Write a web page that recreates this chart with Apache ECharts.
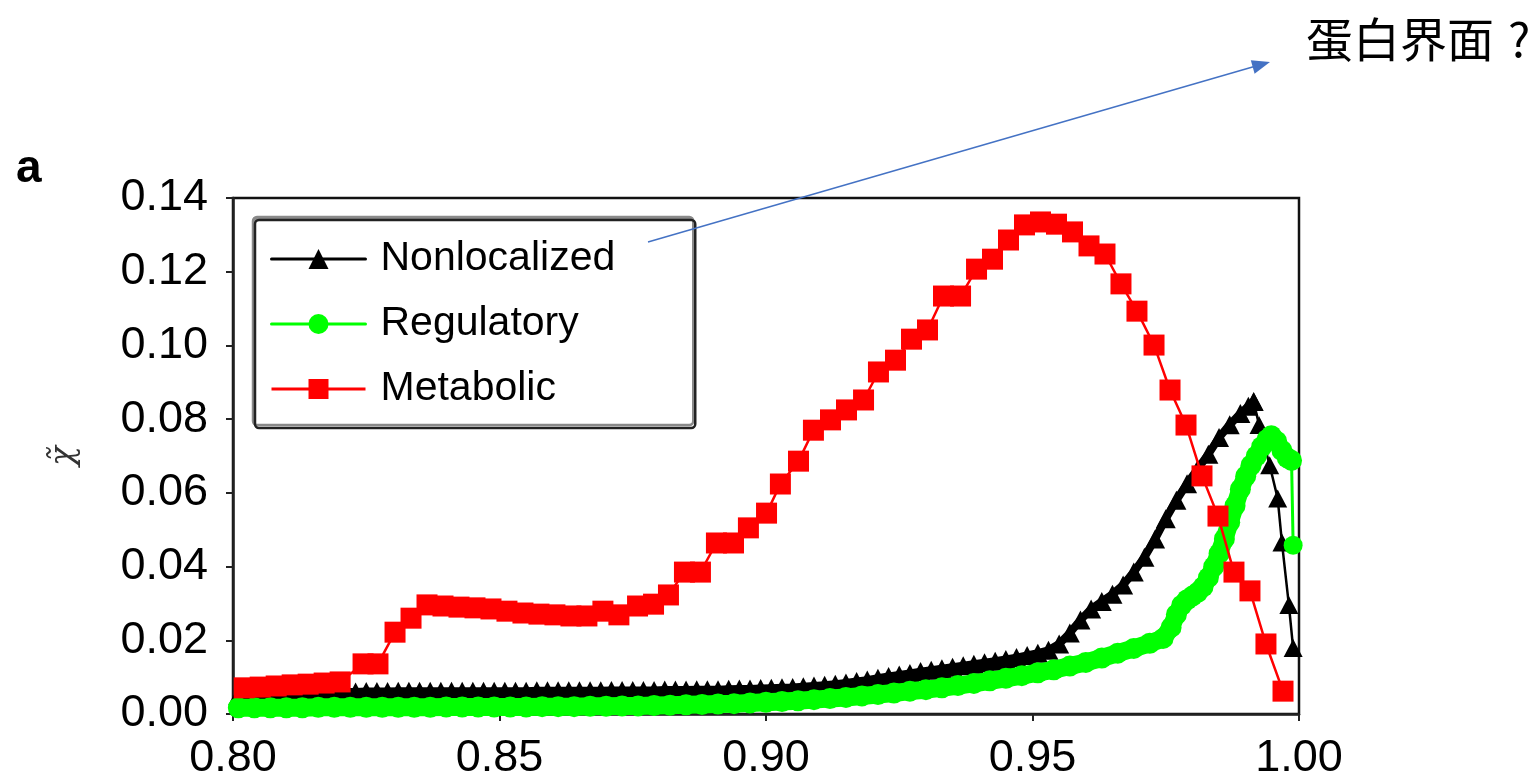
<!DOCTYPE html>
<html>
<head>
    <meta charset="utf-8">
    <title>chi tilde</title>
    <script src="https://cdn.jsdelivr.net/npm/echarts@6/dist/echarts.min.js"></script>
    <style>
        html, body {
            margin: 0;
            height: 100%;
            background: #fff;
        }
        #main {
            width: 1537px;
            height: 779px;
        }
    </style>
</head>
<body>
    <div id="main"></div>
    <script>
        // Nonlocalized (black triangles)
        var nonlocX = [0.801, 0.803, 0.805, 0.807, 0.809, 0.811, 0.813, 0.815, 0.817, 0.819,
            0.821, 0.823, 0.825, 0.827, 0.829, 0.831, 0.833, 0.835, 0.837, 0.839,
            0.841, 0.843, 0.845, 0.847, 0.849, 0.851, 0.853, 0.855, 0.857, 0.859,
            0.861, 0.863, 0.865, 0.867, 0.869, 0.871, 0.873, 0.875, 0.877, 0.879,
            0.881, 0.883, 0.885, 0.887, 0.889, 0.891, 0.893, 0.895, 0.897, 0.899,
            0.901, 0.903, 0.905, 0.907, 0.909, 0.911, 0.913, 0.915, 0.917, 0.919,
            0.921, 0.923, 0.925, 0.927, 0.929, 0.931, 0.933, 0.935, 0.937, 0.939,
            0.941, 0.943, 0.945, 0.947, 0.949, 0.951, 0.953, 0.955, 0.957, 0.959,
            0.961, 0.963, 0.965, 0.967, 0.969, 0.971, 0.973, 0.975, 0.977, 0.979,
            0.981, 0.983, 0.985, 0.987, 0.989, 0.9905, 0.9915, 0.9925, 0.9945, 0.9960,
            0.9968, 0.9981, 0.9989];
        var nonlocY = [0.0050, 0.0051, 0.0053, 0.0054, 0.0055, 0.0056, 0.0057, 0.0058, 0.0058, 0.0059,
            0.0060, 0.0060, 0.0061, 0.0061, 0.0061, 0.0062, 0.0062, 0.0062, 0.0062, 0.0062,
            0.0062, 0.0062, 0.0062, 0.0062, 0.0062, 0.0062, 0.0062, 0.0062, 0.0063, 0.0063,
            0.0063, 0.0063, 0.0063, 0.0063, 0.0063, 0.0064, 0.0064, 0.0064, 0.0064, 0.0064,
            0.0065, 0.0065, 0.0065, 0.0066, 0.0066, 0.0066, 0.0067, 0.0068, 0.0068, 0.0069,
            0.0070, 0.0071, 0.0072, 0.0074, 0.0076, 0.0078, 0.0081, 0.0084, 0.0088, 0.0092,
            0.0097, 0.0102, 0.0106, 0.0110, 0.0115, 0.0119, 0.0123, 0.0127, 0.0131, 0.0135,
            0.0139, 0.0143, 0.0148, 0.0153, 0.0159, 0.0165, 0.0173, 0.0190, 0.0220, 0.0255,
            0.0285, 0.0305, 0.0325, 0.0350, 0.0385, 0.0425, 0.0475, 0.0530, 0.0580, 0.0625,
            0.0665, 0.0705, 0.0750, 0.0785, 0.0815, 0.0835, 0.0848, 0.0784, 0.0675, 0.0585,
            0.0465, 0.0296, 0.0179];
        var nonlocPeak = 96; // markers overlap into a band up to here, sparse after

        // Regulatory (green circles)
        var regX = [0.801, 0.804, 0.807, 0.810, 0.813, 0.816, 0.819, 0.822, 0.825, 0.828,
            0.831, 0.834, 0.837, 0.840, 0.843, 0.846, 0.849, 0.852, 0.855, 0.858,
            0.861, 0.864, 0.867, 0.870, 0.873, 0.876, 0.879, 0.882, 0.885, 0.888,
            0.891, 0.894, 0.897, 0.900, 0.903, 0.906, 0.909, 0.912, 0.915, 0.918,
            0.921, 0.924, 0.927, 0.930, 0.933, 0.936, 0.939, 0.942, 0.945, 0.948,
            0.951, 0.954, 0.957, 0.960, 0.963, 0.966, 0.969, 0.972, 0.9745, 0.976,
            0.977, 0.978, 0.979, 0.980, 0.981, 0.982, 0.983, 0.984, 0.985, 0.986,
            0.987, 0.988, 0.989, 0.990, 0.991, 0.992, 0.993, 0.994, 0.9948, 0.9958,
            0.9968, 0.9978, 0.9986, 0.9989];
        var regY = [0.0017, 0.0017, 0.0017, 0.0017, 0.0017, 0.0018, 0.0018, 0.0018, 0.0018, 0.0018,
            0.0018, 0.0018, 0.0018, 0.0019, 0.0019, 0.0019, 0.0019, 0.0019, 0.0019, 0.0020,
            0.0020, 0.0020, 0.0021, 0.0021, 0.0022, 0.0022, 0.0023, 0.0024, 0.0025, 0.0026,
            0.0027, 0.0028, 0.0030, 0.0032, 0.0034, 0.0036, 0.0039, 0.0042, 0.0045, 0.0049,
            0.0053, 0.0057, 0.0062, 0.0066, 0.0071, 0.0077, 0.0083, 0.0090, 0.0097, 0.0104,
            0.0112, 0.0120, 0.0130, 0.0140, 0.0152, 0.0165, 0.0178, 0.0192, 0.0205, 0.0235,
            0.0270, 0.0295, 0.0310, 0.0320, 0.0330, 0.0345, 0.0370, 0.0400, 0.0435, 0.0475,
            0.0520, 0.0565, 0.0610, 0.0645, 0.0675, 0.0700, 0.0725, 0.0745, 0.0755, 0.0740,
            0.0715, 0.0695, 0.0688, 0.0458];
        var regLast = 82; // dense band ends here, then the final drop

        // Metabolic (red squares)
        var metabX = [0.8021, 0.8051, 0.8081, 0.8111, 0.8141, 0.8171, 0.8201, 0.8244, 0.8272, 0.8304,
            0.8334, 0.8364, 0.8394, 0.8424, 0.8454, 0.8484, 0.8514, 0.8544, 0.8574, 0.8604,
            0.8634, 0.8664, 0.8694, 0.8724, 0.8759, 0.8789, 0.8817, 0.8847, 0.8877, 0.8907,
            0.8939, 0.8967, 0.9001, 0.9027, 0.9061, 0.9089, 0.9121, 0.9151, 0.9183, 0.9211,
            0.9243, 0.9273, 0.9303, 0.9333, 0.9365, 0.9395, 0.9425, 0.9455, 0.9485, 0.9515,
            0.9545, 0.9575, 0.9606, 0.9636, 0.9666, 0.9696, 0.9728, 0.9758, 0.9788, 0.9818,
            0.9848, 0.9878, 0.9908, 0.9938, 0.9970];
        var metabY = [0.0071, 0.0073, 0.0076, 0.0079, 0.0081, 0.0084, 0.0087, 0.0136, 0.0136, 0.0222,
            0.0260, 0.0296, 0.0293, 0.0290, 0.0288, 0.0285, 0.0279, 0.0274, 0.0271, 0.0269,
            0.0266, 0.0266, 0.0279, 0.0269, 0.0293, 0.0298, 0.0323, 0.0385, 0.0385, 0.0464,
            0.0464, 0.0505, 0.0545, 0.0624, 0.0686, 0.0770, 0.0798, 0.0825, 0.0852, 0.0928,
            0.0960, 0.1017, 0.1042, 0.1134, 0.1134, 0.1207, 0.1234, 0.1286, 0.1327, 0.1335,
            0.1329, 0.1308, 0.1270, 0.1248, 0.1167, 0.1093, 0.1001, 0.0879, 0.0784, 0.0646,
            0.0537, 0.0385, 0.0334, 0.0190, 0.0062];

        function pairs(xs, ys, from, to) {
            return xs.slice(from, to).map(function (x, i) { return [x, ys[from + i]]; });
        }

        var chart = echarts.init(document.getElementById('main'), null, { renderer: 'canvas' });

        var labelFont = { color: '#000', fontSize: 45, fontFamily: 'Liberation Sans, Arial, sans-serif' };
        var black = '#000', green = '#00ff00', red = '#ff0000';

        chart.setOption({
            animation: false,
            backgroundColor: '#fff',
            grid: {
                left: 233, right: 238, top: 198, bottom: 65,
                outerBoundsMode: 'none', containLabel: false,
                show: true, borderColor: '#111', borderWidth: 2.5, backgroundColor: '#fff'
            },
            legend: {
                orient: 'vertical',
                left: 255, top: 220,
                padding: [17, 80, 17, 15],
                itemWidth: 94, itemHeight: 25, itemGap: 21,
                backgroundColor: '#fff',
                borderColor: '#222', borderWidth: 2.5, borderRadius: 4,
                shadowColor: '#8a8a8a', shadowBlur: 0, shadowOffsetX: -2, shadowOffsetY: -3,
                lineStyle: { width: 3 },
                textStyle: {
                    color: '#000', fontSize: 41, lineHeight: 44,
                    fontFamily: 'Liberation Sans, Arial, sans-serif',
                    padding: [0, 0, 0, 10]
                },
                data: ['Nonlocalized', 'Regulatory', 'Metabolic']
            },
            xAxis: {
                type: 'value', min: 0.8, max: 1.0, interval: 0.05,
                axisLine: { show: true, lineStyle: { color: '#222', width: 2.5 } },
                axisTick: { show: true, inside: false, length: 7, lineStyle: { color: '#222', width: 2 } },
                axisLabel: Object.assign({ margin: 22, formatter: function (v) { return v.toFixed(2); } }, labelFont),
                splitLine: { show: false }
            },
            yAxis: {
                type: 'value', min: 0, max: 0.14, interval: 0.02,
                name: 'χ\u0303', nameLocation: 'middle', nameGap: 152, nameRotate: 90,
                nameTextStyle: { color: '#333', fontSize: 33, fontStyle: 'italic', fontFamily: 'DejaVu Serif, serif' },
                axisLine: { show: true, lineStyle: { color: '#222', width: 2.5 } },
                axisTick: { show: true, inside: false, length: 7, lineStyle: { color: '#222', width: 2 } },
                axisLabel: Object.assign({ margin: 25, formatter: function (v) { return v.toFixed(2); } }, labelFont),
                splitLine: { show: false }
            },
            series: [
                {
                    name: 'Nonlocalized', type: 'line', z: 2,
                    data: pairs(nonlocX, nonlocY, 0, nonlocPeak + 1),
                    symbol: 'triangle', symbolSize: [20, 19],
                    lineStyle: { color: black, width: 8, join: 'round', cap: 'round' },
                    itemStyle: { color: black }
                },
                {
                    name: 'Nonlocalized', type: 'line', z: 2,
                    data: pairs(nonlocX, nonlocY, nonlocPeak, nonlocX.length),
                    symbol: 'triangle', symbolSize: [19, 18],
                    lineStyle: { color: black, width: 2.5 },
                    itemStyle: { color: black }
                },
                {
                    name: 'Regulatory', type: 'line', z: 3,
                    data: pairs(regX, regY, 0, regLast + 1),
                    symbol: 'circle', symbolSize: 21,
                    lineStyle: { color: green, width: 18, join: 'round', cap: 'round' },
                    itemStyle: { color: green }
                },
                {
                    name: 'Regulatory', type: 'line', z: 3,
                    data: pairs(regX, regY, regLast, regX.length),
                    symbol: 'circle', symbolSize: 19,
                    lineStyle: { color: green, width: 3 },
                    itemStyle: { color: green }
                },
                {
                    name: 'Metabolic', type: 'line', z: 4,
                    data: pairs(metabX, metabY, 0, metabX.length),
                    symbol: 'rect', symbolSize: 21,
                    lineStyle: { color: red, width: 2.5 },
                    itemStyle: { color: red }
                }
            ],
            graphic: [
                {
                    type: 'text', left: 16, top: 146,
                    style: { text: 'a', fontSize: 46, fontWeight: 'bold', fill: '#000', fontFamily: 'Liberation Sans, Arial, sans-serif' }
                },
                {
                    type: 'text', left: 1306, top: 16,
                    style: { text: '蛋白界面', fontSize: 47, fill: '#000', fontFamily: 'Noto Sans CJK SC, sans-serif' }
                },
                {
                    type: 'text', left: 1508, top: 16,
                    style: { text: '?', fontSize: 47, fill: '#000', fontFamily: 'Noto Sans CJK SC, sans-serif' }
                },
                {
                    type: 'line', z: 10,
                    shape: { x1: 648, y1: 242, x2: 1256, y2: 66 },
                    style: { stroke: '#4472c4', lineWidth: 1.5 }
                },
                {
                    type: 'polygon', z: 10,
                    shape: { points: [[1270, 62], [1254.6, 73.7], [1250.8, 60.3]] },
                    style: { fill: '#4472c4' }
                }
            ]
        });
    </script>
</body>
</html>
